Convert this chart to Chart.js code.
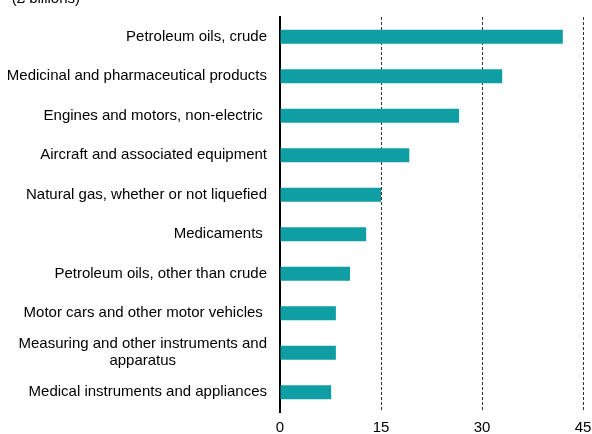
<!DOCTYPE html>
<html>
<head>
<meta charset="utf-8">
<script src="https://cdn.jsdelivr.net/npm/chart.js@4.4.0/dist/chart.umd.min.js"></script>
<style>
  html, body { margin: 0; padding: 0; background: #fff; }
  #wrap { width: 592px; height: 434px; }
</style>
</head>
<body>
<div id="wrap"><canvas id="exportsChart"></canvas></div>
<script>
// Chart data
const categories = [
    'Petroleum oils, crude',
    'Medicinal and pharmaceutical products',
    'Engines and motors, non-electric ',
    'Aircraft and associated equipment',
    'Natural gas, whether or not liquefied',
    'Medicaments ',
    'Petroleum oils, other than crude',
    'Motor cars and other motor vehicles ',
    ['Measuring and other instruments and', 'apparatus'],
    'Medical instruments and appliances'
];
const values = [42.0, 33.0, 26.6, 19.2, 15.0, 12.8, 10.4, 8.3, 8.3, 7.6];
const xTicks = [0, 15, 30, 45];
const unitLabel = '(£ billions)';

const fontFamily = '"Liberation Sans", Arial, sans-serif';
const labelFont = '15px ' + fontFamily;

// Draws y labels: single lines right-aligned, wrapped lines centred on each other
const labelPlugin = {
    id: 'labelPlugin',
    afterDraw(chart) {
        const ctx = chart.ctx;
        const yScale = chart.scales.y;
        const rightX = chart.chartArea.left - 13;
        ctx.save();
        ctx.font = labelFont;
        ctx.fillStyle = '#000';
        ctx.textBaseline = 'middle';
        categories.forEach((label, i) => {
            const y = yScale.getPixelForTick(i);
            if (Array.isArray(label)) {
                const widths = label.map(l => ctx.measureText(l).width);
                const maxW = Math.max(...widths);
                ctx.textAlign = 'center';
                const lineH = 17;
                const startY = y - (label.length - 1) * lineH / 2;
                label.forEach((l, j) => {
                    ctx.fillText(l, rightX - maxW / 2, startY + j * lineH);
                });
            } else {
                ctx.textAlign = 'right';
                ctx.fillText(label, rightX, y);
            }
        });
        // unit label, mostly cut off at the top edge
        ctx.textAlign = 'right';
        ctx.textBaseline = 'alphabetic';
        ctx.fillText(unitLabel, 80, 3);
        ctx.restore();
    }
};

const ctx = document.getElementById('exportsChart').getContext('2d');
new Chart(ctx, {
    type: 'bar',
    data: {
        labels: categories,
        datasets: [{
            data: values,
            backgroundColor: '#109ea5',
            borderWidth: 0,
            barPercentage: 0.9,
            categoryPercentage: 0.4
        }]
    },
    options: {
        indexAxis: 'y',
        responsive: true,
        maintainAspectRatio: false,
        animation: false,
        layout: {
            padding: { top: 17, right: 9, left: 0, bottom: 0 }
        },
        plugins: {
            legend: { display: false },
            tooltip: { enabled: false }
        },
        scales: {
            x: {
                min: 0,
                max: 45,
                afterBuildTicks: (scale) => {
                    scale.ticks = xTicks.map(v => ({ value: v }));
                },
                afterFit: (scale) => {
                    scale.height = 22;
                    scale.paddingLeft = 0;
                    scale.paddingRight = 0;
                },
                grid: {
                    drawTicks: false,
                    color: (c) => c.tick && c.tick.value === 0 ? 'rgba(0,0,0,0)' : '#333',
                    lineWidth: 1
                },
                border: { display: false, dash: [3, 2] },
                ticks: {
                    color: '#000',
                    padding: 7,
                    font: { family: fontFamily, size: 15 }
                }
            },
            y: {
                afterFit: (scale) => { scale.width = 280; },
                grid: { display: false },
                border: { display: true, color: '#000', width: 2 },
                ticks: {
                    color: 'rgba(0,0,0,0)',
                    font: { family: fontFamily, size: 15 }
                }
            }
        }
    },
    plugins: [labelPlugin]
});
</script>
</body>
</html>
